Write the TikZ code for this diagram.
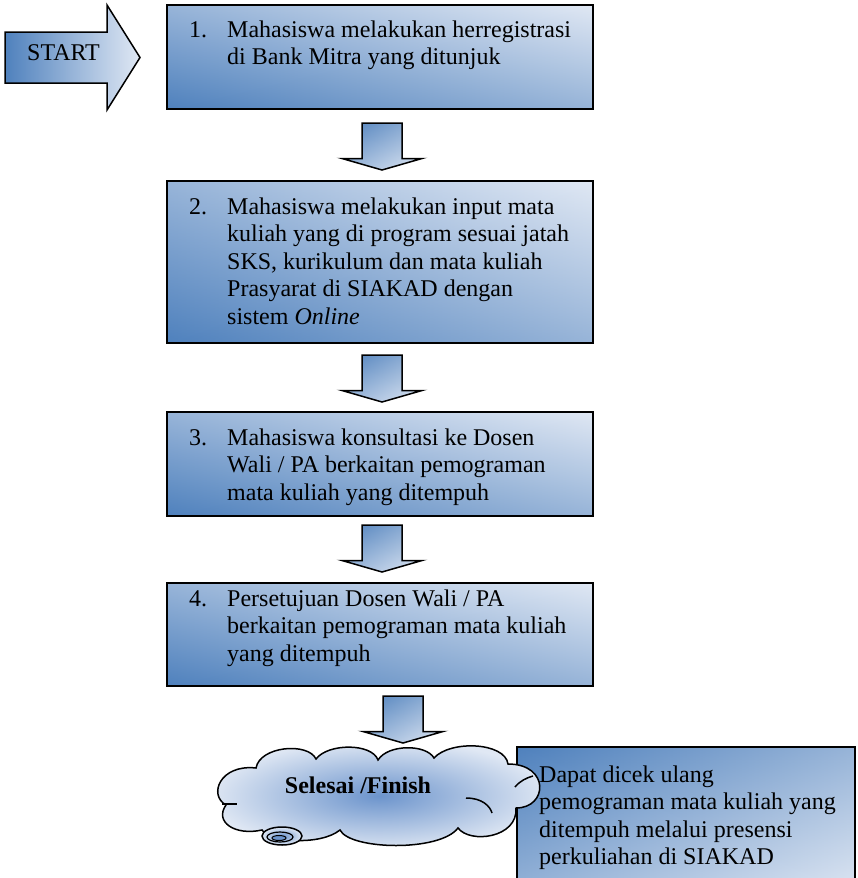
\documentclass[tikz,border=0pt]{standalone}
\usepackage{fontspec}
\setmainfont{Liberation Serif}
\definecolor{dk}{RGB}{79,129,189}
\definecolor{lt}{RGB}{224,232,244}
\definecolor{cmid}{RGB}{108,148,204}
% gradient box: name, x, y, w, h  (dark bottom-left -> light top-right)
\newcommand\gbox[5]{%
  \node[boxnode, minimum width=#4pt, minimum height=#5pt, left color=dk, right color=lt] (#1) at (#2,#3) {};
  \shade[top color=lt, bottom color=dk, fill opacity=0.5] (#1.north west) rectangle (#1.south east);
  \draw[line width=2pt] (#1.north west) rectangle (#1.south east);}
% block arrow down: centre x, top y (dark top-left -> light bottom-right)
\newcommand\blockdn[2]{%
  \path[shade, left color=dk, right color=lt] (#1-20,#2) -- (#1+20,#2) -- (#1+20,#2+35.5) -- (#1+40,#2+35.5)
    -- (#1,#2+47) -- (#1-40,#2+35.5) -- (#1-20,#2+35.5) -- cycle;
  \path[shade, top color=dk, bottom color=lt, fill opacity=0.5] (#1-20,#2) -- (#1+20,#2) -- (#1+20,#2+35.5) -- (#1+40,#2+35.5)
    -- (#1,#2+47) -- (#1-40,#2+35.5) -- (#1-20,#2+35.5) -- cycle;
  \draw[line width=1.5pt] (#1-20,#2) -- (#1+20,#2) -- (#1+20,#2+35.5) -- (#1+40,#2+35.5)
    -- (#1,#2+47) -- (#1-40,#2+35.5) -- (#1-20,#2+35.5) -- cycle;}
\begin{document}
\begin{tikzpicture}[x=1pt,y=-1pt,
  boxnode/.style={rectangle, inner sep=0pt, outer sep=0pt, anchor=north west},
  startarr/.style={draw=black, line width=1.5pt, shade, left color=dk, right color=lt},
  cloudst/.style={draw=black, line width=1.5pt, shade, inner color=cmid, outer color=lt},
  txt/.style={inner sep=0pt, font=\fontsize{24}{27.6}\selectfont, anchor=base west},
]
\clip (0,0) rectangle (858,878);
\fill[white] (0,0) rectangle (858,878);

% START arrow
\path[startarr] (5,32) -- (107,32) -- (107,5) -- (140,57.5) -- (107,110) -- (107,83) -- (5,83) -- cycle;
\node[txt, anchor=base] (st) at (63.5,60) {START};

% boxes
\gbox{b1}{167}{5}{426}{104}
\node[txt] (t1) at (189,37) {\begin{tabular}[t]{@{}p{38pt}@{}l@{}}1.&Mahasiswa melakukan herregistrasi\\&di Bank Mitra yang ditunjuk\end{tabular}};

\blockdn{382}{123}

\gbox{b2}{167}{181}{426}{162}
\node[txt] (t2) at (189,214) {\begin{tabular}[t]{@{}p{38pt}@{}l@{}}2.&Mahasiswa melakukan input mata\\&kuliah yang di program sesuai jatah\\&SKS, kurikulum dan mata kuliah\\&Prasyarat di SIAKAD dengan\\&sistem \textit{Online}\end{tabular}};

\blockdn{382}{355}

\gbox{b3}{167}{412}{426}{104}
\node[txt] (t3) at (189,445) {\begin{tabular}[t]{@{}p{38pt}@{}l@{}}3.&Mahasiswa konsultasi ke Dosen\\&Wali / PA berkaitan pemograman\\&mata kuliah yang ditempuh\end{tabular}};

\blockdn{382}{525}

\gbox{b4}{167}{583}{426}{103}
\node[txt] (t4) at (189,606) {\begin{tabular}[t]{@{}p{38pt}@{}l@{}}4.&Persetujuan Dosen Wali / PA\\&berkaitan pemograman mata kuliah\\&yang ditempuh\end{tabular}};

\blockdn{403}{696}

% note box (dark top-left -> light bottom-right)
\node[boxnode, minimum width=338pt, minimum height=150pt, left color=dk, right color=lt] (nb) at (517,747) {};
\shade[top color=dk, bottom color=lt, fill opacity=0.5] (nb.north west) rectangle (nb.south east);
\draw[line width=2pt] (nb.north west) rectangle (nb.south east);
\node[txt] (nt) at (539,782) {\begin{tabular}[t]{@{}l@{}}Dapat dicek ulang\\pemograman mata kuliah yang\\ditempuh melalui presensi\\perkuliahan di SIAKAD\end{tabular}};

% cloud
\path[cloudst] (256,768)
  .. controls (260,746) and (308,742) .. (316,759)
  .. controls (328,743) and (372,743) .. (378,760)
  .. controls (388,744) and (426,744) .. (434,758)
  .. controls (450,740) and (505,742) .. (508,764)
  .. controls (550,764) and (548,808) .. (516,808)
  .. controls (518,838) and (470,844) .. (458,828)
  .. controls (440,852) and (350,850) .. (340,830)
  .. controls (320,846) and (270,842) .. (262,830)
  .. controls (235,836) and (214,822) .. (226,805)
  .. controls (208,795) and (220,764) .. (256,768) -- cycle;
\draw[line width=1.5pt] (222,804) -- (237,804);
\draw[line width=1.5pt] (515,787) .. controls (520,781) and (526,778) .. (533,776);
\draw[line width=1.5pt] (466,798) .. controls (482,798) and (490,806) .. (492,813);
\node[inner sep=0pt, font=\fontsize{24}{27.6}\selectfont\bfseries, anchor=base] (fin) at (358,793) {Selesai /Finish};

% tail ellipses
\path[cloudst] (282,836) ellipse [x radius=20, y radius=9];
\draw[line width=1.2pt] (280,837) ellipse [x radius=13, y radius=5];
\path[draw=black, line width=1pt, fill=cmid] (279,838) ellipse [x radius=7, y radius=2.5];
\end{tikzpicture}
\end{document}
